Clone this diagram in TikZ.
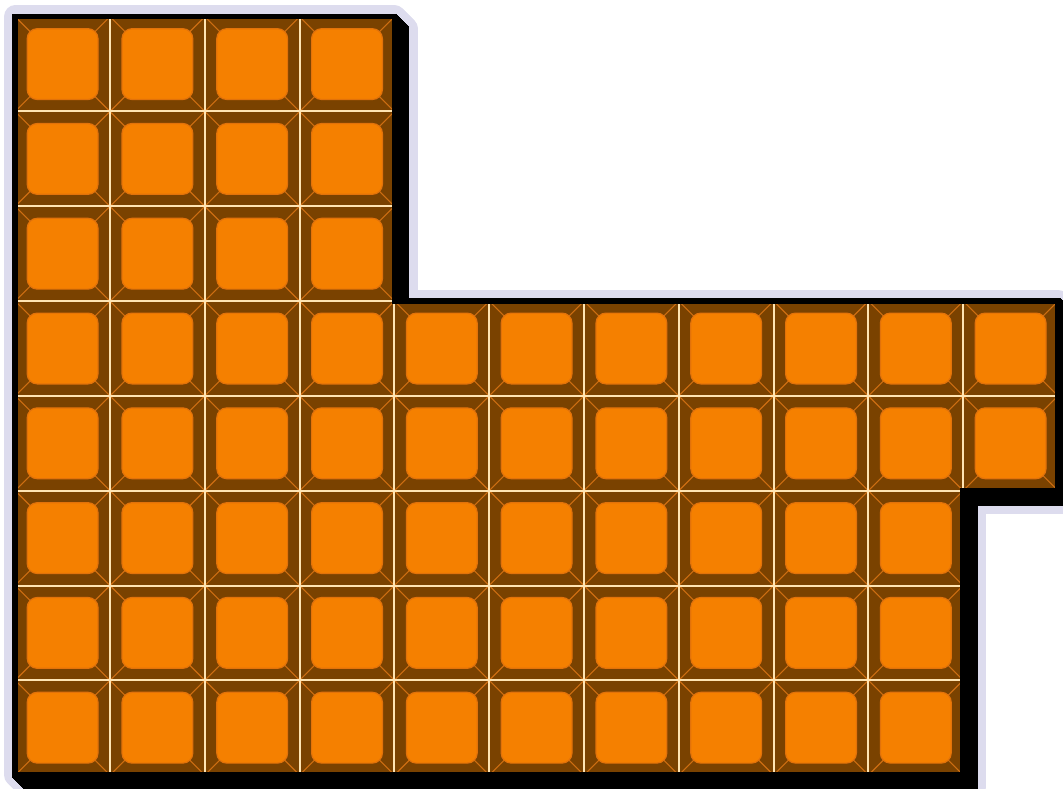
\documentclass[tikz,border=0pt]{standalone}
\definecolor{halo}{RGB}{221,220,238}
\definecolor{tilebrown}{RGB}{122,66,0}
\definecolor{tileorange}{RGB}{245,128,0}
\definecolor{tileedge}{RGB}{226,114,10}
\definecolor{bevel}{RGB}{205,110,18}
\definecolor{gridcream}{RGB}{255,228,178}
\newcommand\blockpath{(15.2,16.7) -- (394.4,16.7) -- (394.4,301.1) -- (1058,301.1) -- (1058,490.7) -- (963.2,490.7) -- (963.2,775.1) -- (15.2,775.1) -- cycle}
\tikzset{
  halostroke/.style={fill=halo, draw=halo, line width=22.4pt, line join=round},
  shadowstroke/.style={fill=black, draw=black, line width=5.6pt, line join=miter},
  tilebase/.style={fill=tilebrown},
  bevelline/.style={draw=bevel, line width=1.1pt},
  innersq/.style={draw=tileedge, fill=tileorange, line width=1.2pt, rounded corners=10pt},
  gridline/.style={draw=gridcream, line width=2pt}
}
\begin{document}
\begin{tikzpicture}[x=1pt,y=-1pt]
\useasboundingbox (0,0) rectangle (1063,789);
\clip (0,0) rectangle (1063,789);
% halo sweep
\foreach \k in {0,1,...,12} {
  \path[halostroke, shift={(\k,\k)}] \blockpath;
}
% black shadow sweep
\foreach \k in {0,1,...,12} {
  \path[shadowstroke, shift={(\k,\k)}] \blockpath;
}
% tiles
\foreach \r/\n in {0/3,1/3,2/3,3/10,4/10,5/9,6/9,7/9} {
  \foreach \c in {0,...,\n} {
    \begin{scope}[shift={({15.2+\c*94.8},{16.7+\r*94.8})}]
      \path[tilebase] (0,0) rectangle (94.8,94.8);
      \path[bevelline] (0,0) -- (94.8,94.8) (94.8,0) -- (0,94.8);
      \path[innersq] (12,12) rectangle (82.8,82.8);
    \end{scope}
  }
}
% grid lines
\foreach \r/\n in {0/3,1/3,2/3,3/10,4/10,5/9,6/9,7/9} {
  \foreach \c in {0,...,\n} {
    \path[gridline, shift={({15.2+\c*94.8},{16.7+\r*94.8})}] (0,0) rectangle (94.8,94.8);
  }
}
% outline on top
\path[draw=black, line width=5.6pt, line join=miter] \blockpath;
\end{tikzpicture}
\end{document}
